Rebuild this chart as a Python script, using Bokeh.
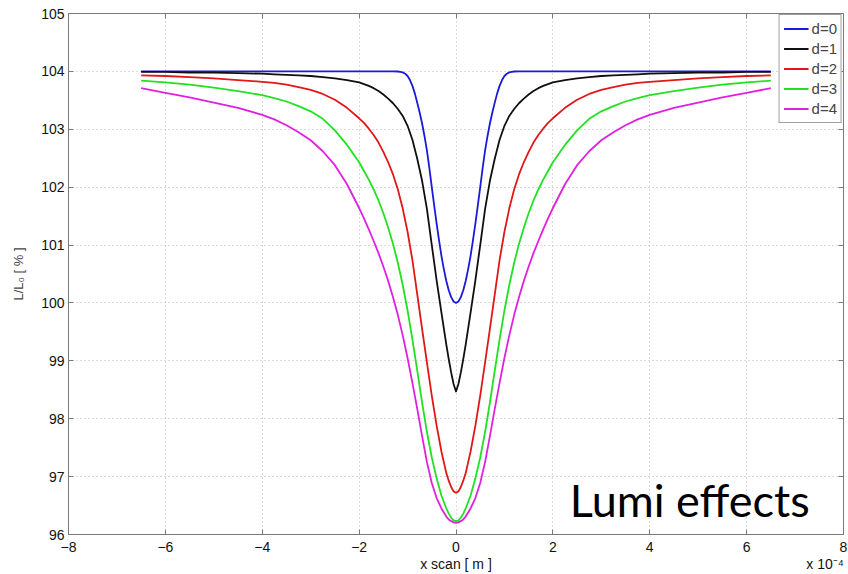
from bokeh.plotting import figure
from bokeh.models import (LinearAxis, FixedTicker, Label, Legend, LegendItem,
                          Range1d, ColumnDataSource, CustomLabelingPolicy)
from bokeh.embed import file_html
from bokeh.resources import INLINE

# ---------------- data (x in units of 1e-4 m, L/L0 in %) ----------------
# common scan positions for d=1..4
x_scan = [-6.5, -6.0, -5.5, -5.0, -4.5, -4.0, -3.75, -3.5, -3.25, -3.0, -2.75, -2.5, -2.25, -2.0,
          -1.9, -1.8, -1.7, -1.6, -1.5, -1.4, -1.3, -1.2, -1.1, -1.0, -0.9, -0.8, -0.7, -0.6,
          -0.5, -0.4, -0.3, -0.2, -0.15, -0.1, -0.05, 0.0,
          0.05, 0.1, 0.15, 0.2, 0.3, 0.4, 0.5, 0.6, 0.7, 0.8, 0.9, 1.0, 1.1, 1.2, 1.3, 1.4,
          1.5, 1.6, 1.7, 1.8, 1.9, 2.0, 2.25, 2.5, 2.75, 3.0, 3.25, 3.5, 3.75, 4.0, 4.5, 5.0,
          5.5, 6.0, 6.5]

# scan positions for d=0 (narrow dip)
x_scan_d0 = [-6.5, -1.4, -1.3, -1.2, -1.15, -1.1, -1.05, -1.0, -0.95, -0.9, -0.85, -0.8, -0.75,
             -0.7, -0.65, -0.6, -0.55, -0.5, -0.45, -0.4, -0.35, -0.3, -0.25, -0.2, -0.15, -0.1,
             -0.05, 0.0,
             0.05, 0.1, 0.15, 0.2, 0.25, 0.3, 0.35, 0.4, 0.45, 0.5, 0.55, 0.6, 0.65, 0.7, 0.75,
             0.8, 0.85, 0.9, 0.95, 1.0, 1.05, 1.1, 1.15, 1.2, 1.3, 1.4, 6.5]

lumi_d0 = [104.0, 104.0, 104.0, 103.998, 103.993, 103.983, 103.96, 103.92, 103.85, 103.75, 103.62,
           103.46, 103.29, 103.1, 102.88, 102.63, 102.33, 102.0, 101.68, 101.37, 101.08, 100.81,
           100.58, 100.38, 100.22, 100.1, 100.025, 100.0,
           100.025, 100.1, 100.22, 100.38, 100.58, 100.81, 101.08, 101.37, 101.68, 102.0, 102.33,
           102.63, 102.88, 103.1, 103.29, 103.46, 103.62, 103.75, 103.85, 103.92, 103.96, 103.983,
           103.993, 103.998, 104.0, 104.0, 104.0]

lumi_d1 = [103.99, 103.99, 103.98, 103.98, 103.97, 103.96, 103.95, 103.94, 103.93, 103.92, 103.90,
           103.88, 103.85, 103.81, 103.78, 103.75, 103.71, 103.66, 103.60, 103.53, 103.45, 103.35,
           103.23, 103.06, 102.82, 102.49, 102.11, 101.62, 101.0, 100.39, 99.83, 99.28, 99.03,
           98.8, 98.6, 98.47,
           98.6, 98.8, 99.03, 99.28, 99.83, 100.39, 101.0, 101.62, 102.11, 102.49, 102.82, 103.06,
           103.23, 103.35, 103.45, 103.53, 103.60, 103.66, 103.71, 103.75, 103.78, 103.81, 103.85,
           103.88, 103.90, 103.92, 103.93, 103.94, 103.95, 103.96, 103.97, 103.98, 103.98,
           103.99, 103.99]

lumi_d2 = [103.93, 103.92, 103.90, 103.88, 103.85, 103.82, 103.80, 103.77, 103.73, 103.68, 103.61,
           103.51, 103.37, 103.19, 103.11, 103.01, 102.90, 102.77, 102.61, 102.43, 102.22, 101.96,
           101.63, 101.23, 100.74, 100.15, 99.55, 98.97, 98.40, 97.88, 97.43, 97.06, 96.93,
           96.82, 96.745, 96.72,
           96.745, 96.82, 96.93, 97.06, 97.43, 97.88, 98.40, 98.97, 99.55, 100.15, 100.74, 101.23,
           101.63, 101.96, 102.22, 102.43, 102.61, 102.77, 102.90, 103.01, 103.11, 103.19, 103.37,
           103.51, 103.61, 103.68, 103.73, 103.77, 103.80, 103.82, 103.85, 103.88, 103.90,
           103.92, 103.93]

lumi_d3 = [103.84, 103.81, 103.77, 103.72, 103.66, 103.59, 103.54, 103.48, 103.40, 103.31, 103.18,
           102.98, 102.73, 102.43, 102.28, 102.13, 101.96, 101.77, 101.55, 101.30, 101.02, 100.69,
           100.31, 99.87, 99.37, 98.83, 98.28, 97.77, 97.33, 96.97, 96.67, 96.45, 96.36,
           96.29, 96.245, 96.23,
           96.245, 96.29, 96.36, 96.45, 96.67, 96.97, 97.33, 97.77, 98.28, 98.83, 99.37, 99.87,
           100.31, 100.69, 101.02, 101.30, 101.55, 101.77, 101.96, 102.13, 102.28, 102.43, 102.73,
           102.98, 103.18, 103.31, 103.40, 103.48, 103.54, 103.59, 103.66, 103.72, 103.77,
           103.81, 103.84]

lumi_d4 = [103.71, 103.63, 103.55, 103.46, 103.37, 103.25, 103.17, 103.07, 102.95, 102.81, 102.62,
           102.38, 102.05, 101.64, 101.46, 101.27, 101.07, 100.86, 100.63, 100.38, 100.10, 99.79,
           99.44, 99.05, 98.62, 98.17, 97.70, 97.25, 96.89, 96.63, 96.45, 96.31, 96.26,
           96.23, 96.21, 96.20,
           96.21, 96.23, 96.26, 96.31, 96.45, 96.63, 96.89, 97.25, 97.70, 98.17, 98.62, 99.05,
           99.44, 99.79, 100.10, 100.38, 100.63, 100.86, 101.07, 101.27, 101.46, 101.64, 102.05,
           102.38, 102.62, 102.81, 102.95, 103.07, 103.17, 103.25, 103.37, 103.46, 103.55,
           103.63, 103.71]

series_names = ["d=0", "d=1", "d=2", "d=3", "d=4"]
series_x = [x_scan_d0, x_scan, x_scan, x_scan, x_scan]
series_values = [lumi_d0, lumi_d1, lumi_d2, lumi_d3, lumi_d4]
x_ticks = [-8, -6, -4, -2, 0, 2, 4, 6, 8]
y_ticks = [96, 97, 98, 99, 100, 101, 102, 103, 104, 105]
x_label = "x scan [ m ]"
x_multiplier = "x 10\u207b\u2074"
y_label = "L/L\u2080 [ % ]"
annotation = "Lumi effects"

colors = ["#1a1ad8", "#101010", "#e01818", "#22e022", "#e020e0"]
FONT = "Liberation Sans"
AXIS_GREY = "#7a7a7a"

p = figure(width=848, height=574, output_backend="svg", toolbar_location=None,
           x_range=Range1d(-8, 8), y_range=Range1d(96, 105),
           x_axis_location=None, y_axis_location=None,
           min_border_left=68, min_border_right=3, min_border_top=13, min_border_bottom=39)
p.background_fill_color = "white"
p.border_fill_color = "white"
p.outline_line_color = AXIS_GREY
p.outline_line_width = 1

hide_all = CustomLabelingPolicy(code="return []")


def style_axis(ax, show_labels=True):
    ax.axis_line_color = AXIS_GREY
    ax.major_tick_line_color = AXIS_GREY
    ax.major_tick_in = 5
    ax.major_tick_out = 0
    ax.minor_tick_line_color = None
    ax.major_label_text_font = FONT
    ax.major_label_text_color = "#111111"
    ax.major_label_text_font_size = "14px" if show_labels else "1px"
    ax.major_label_standoff = 5 if show_labels else 0
    if not show_labels:
        ax.major_label_policy = hide_all


# bottom axis: tick labels
xb = LinearAxis(ticker=FixedTicker(ticks=x_ticks))
style_axis(xb)
xb.major_label_standoff = 7
p.add_layout(xb, "below")

# second row below: axis title and the x10^-4 multiplier, as labels of a tick-less axis
xb2 = LinearAxis(ticker=FixedTicker(ticks=[0, 7.62]),
                 major_label_overrides={0: x_label, 7.62: x_multiplier})
xb2.axis_line_color = None
xb2.major_tick_line_color = None
xb2.minor_tick_line_color = None
xb2.major_tick_in = 0
xb2.major_tick_out = 0
xb2.major_label_standoff = 1
xb2.major_label_text_font = FONT
xb2.major_label_text_font_size = "14px"
xb2.major_label_text_color = "#111111"
p.add_layout(xb2, "below")

yl = LinearAxis(ticker=FixedTicker(ticks=y_ticks), axis_label=y_label)
style_axis(yl)
yl.major_label_standoff = 4
yl.axis_label_standoff = 12
yl.axis_label_text_font = FONT
yl.axis_label_text_font_style = "normal"
yl.axis_label_text_font_size = "13px"
p.add_layout(yl, "left")

xt = LinearAxis(ticker=FixedTicker(ticks=x_ticks))
style_axis(xt, show_labels=False)
p.add_layout(xt, "above")

yr = LinearAxis(ticker=FixedTicker(ticks=y_ticks))
style_axis(yr, show_labels=False)
p.add_layout(yr, "right")

p.xgrid.ticker = FixedTicker(ticks=x_ticks)
p.ygrid.ticker = FixedTicker(ticks=y_ticks)
for g in (p.xgrid, p.ygrid):
    g.grid_line_color = "#b8b8b8"
    g.grid_line_dash = "1 3"
    g.grid_line_width = 1

items = []
for name, xs, vals, col in zip(series_names, series_x, series_values, colors):
    src = ColumnDataSource(dict(x=xs, y=vals))
    r = p.line("x", "y", source=src, line_color=col, line_width=1.8, line_join="round")
    items.append(LegendItem(label=name, renderers=[r]))

legend = Legend(items=items, location="top_right", margin=1, padding=4,
                spacing=1, label_height=19, glyph_height=19, glyph_width=25,
                label_standoff=3, label_text_font=FONT, label_text_font_size="15px",
                border_line_color="#404040", border_line_width=1,
                background_fill_color="white", background_fill_alpha=1.0)
p.add_layout(legend)

# "Lumi effects" annotation
p.add_layout(Label(x=2.35, y=96.6, text=annotation, text_font="Lato",
                   text_font_size="45px", text_color="black", text_baseline="alphabetic"))

open("out.html", "w").write(file_html(p, INLINE))
